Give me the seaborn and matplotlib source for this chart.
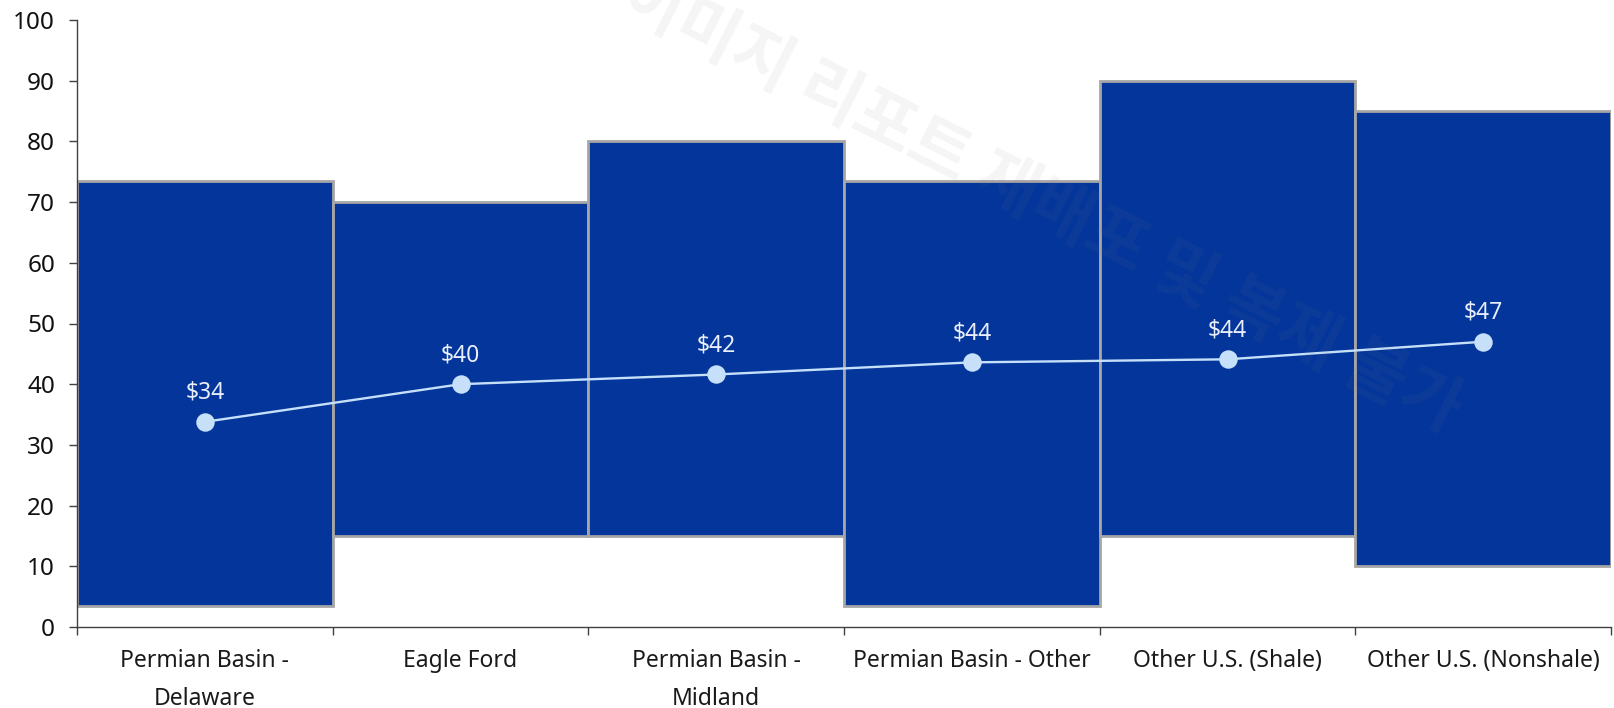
import numpy as np
import pandas as pd
import seaborn as sns
import matplotlib
matplotlib.use("Agg")
import matplotlib.pyplot as plt

categories = ["Permian Basin -\nDelaware", "Eagle Ford", "Permian Basin -\nMidland",
              "Permian Basin - Other", "Other U.S. (Shale)", "Other U.S. (Nonshale)"]
low_values = [3.5, 15, 15, 3.5, 15, 10]
high_values = [73.5, 70, 80, 73.5, 90, 85]
mean_values = [33.8, 40.0, 41.6, 43.6, 44.1, 47.0]
mean_labels = ["$34", "$40", "$42", "$44", "$44", "$47"]
y_ticks = [0, 10, 20, 30, 40, 50, 60, 70, 80, 90, 100]
watermark = "이미지 리포트 재배포 및 복제 불가"

sns.set_theme(style="white")
plt.rcParams["font.family"] = ["Noto Sans", "DejaVu Sans"]

df = pd.DataFrame({"cat": categories,
                   "span": np.array(high_values) - np.array(low_values),
                   "low": low_values,
                   "mean": mean_values})

fig = plt.figure(figsize=(16.14, 7.08), dpi=100)
ax = fig.add_axes([77 / 1614, 1 - 627 / 708, (1611 - 77) / 1614, (627 - 20) / 708])

sns.barplot(data=df, x="cat", y="span", bottom=df["low"].values, width=1.0,
            color="#03359A", saturation=1, edgecolor="#A6A6A6", linewidth=2,
            ax=ax, zorder=2)
sns.pointplot(data=df, x="cat", y="mean", color="#C6E0FA", markers="o",
              markersize=12, linewidth=1.7, ax=ax, zorder=4)

for i, (m, lab) in enumerate(zip(mean_values, mean_labels)):
    ax.annotate(lab, (i, m), xytext=(0, 21), textcoords="offset points",
                ha="center", va="center", fontsize=16.5, color="#E8EEFA", zorder=5)

ax.set_ylim(0, 100)
ax.set_xlim(-0.5, 5.5)
ax.set_yticks(y_ticks)
ax.set_xlabel("")
ax.set_ylabel("")
ax.set_xticks(np.arange(len(categories)))
ax.set_xticklabels(categories, fontsize=16.5, color="#1A1A1A", linespacing=1.75)
ax.set_xticks(np.arange(-0.5, len(categories), 1.0), minor=True)
ax.tick_params(axis="x", which="major", length=0, pad=16)
ax.tick_params(axis="x", which="minor", length=5.8, width=1, color="#404040", direction="out", bottom=True)
ax.tick_params(axis="y", which="major", length=5.8, width=1, color="#404040", direction="out",
               left=True, labelsize=17.5, labelcolor="#111111", pad=10)
for s in ["top", "right"]:
    ax.spines[s].set_visible(False)
for s in ["left", "bottom"]:
    ax.spines[s].set_color("#404040")
    ax.spines[s].set_linewidth(1)
ax.grid(False)

fig.text(0.645, 0.712, watermark, fontsize=48, rotation=-27, ha="center", va="center",
         color="#808080", alpha=0.08, family=["Noto Sans CJK KR", "DejaVu Sans"],
         fontweight="bold", zorder=10)

fig.savefig("out.png", dpi=100)
